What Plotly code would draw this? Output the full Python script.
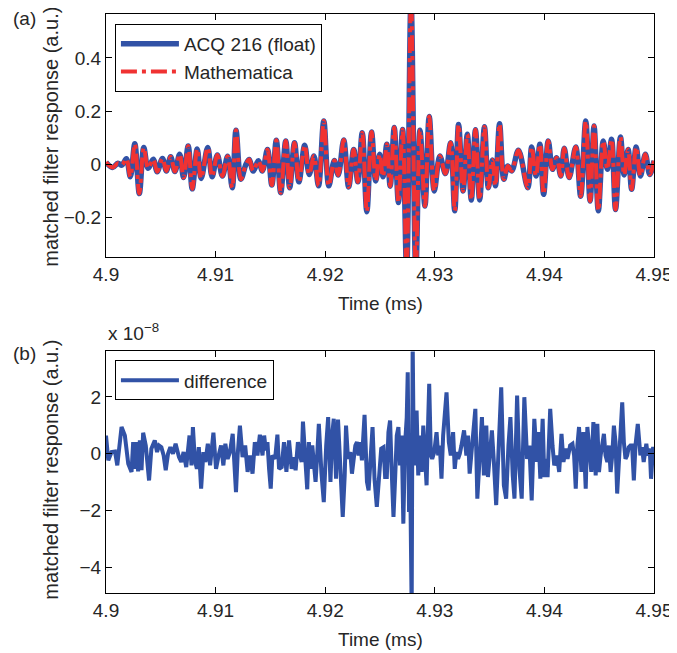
import plotly.graph_objects as go

# ---------------- data ----------------
# (a) matched filter response, ACQ 216 (float) and Mathematica (they overlap)
time_top = [
    4.90000, 4.90061, 4.90109, 4.90145, 4.90186, 4.90222, 4.90263, 4.90304, 4.90345, 4.90384,
    4.90431, 4.90467, 4.90515, 4.90551, 4.90590, 4.90629, 4.90672, 4.90708, 4.90750, 4.90787,
    4.90832, 4.90868, 4.90928, 4.90968, 4.91016, 4.91062, 4.91110, 4.91152, 4.91186, 4.91231,
    4.91277, 4.91307, 4.91343, 4.91391, 4.91427, 4.91473, 4.91513, 4.91554, 4.91594, 4.91640,
    4.91676, 4.91720, 4.91760, 4.91813, 4.91854, 4.91897, 4.91939, 4.91987, 4.92033, 4.92083,
    4.92119, 4.92169, 4.92214, 4.92260, 4.92298, 4.92338, 4.92380, 4.92423, 4.92461, 4.92497,
    4.92527, 4.92562, 4.92593, 4.92630, 4.92668, 4.92706, 4.92743, 4.92783, 4.92827, 4.92865,
    4.92910, 4.92949, 4.92995, 4.93046, 4.93097, 4.93144, 4.93182, 4.93217, 4.93258, 4.93297,
    4.93333, 4.93371, 4.93409, 4.93453, 4.93489, 4.93525, 4.93553, 4.93591, 4.93630, 4.93666,
    4.93702, 4.93763, 4.93848, 4.93884, 4.93923, 4.93959, 4.93993, 4.94035, 4.94074, 4.94111,
    4.94150, 4.94181, 4.94226, 4.94286, 4.94331, 4.94377, 4.94417, 4.94453, 4.94492, 4.94537,
    4.94574, 4.94613, 4.94649, 4.94694, 4.94728, 4.94764, 4.94796, 4.94837, 4.94876, 4.94921,
    4.94961, 4.95000,
]
acq_values = [
    0.008, -0.012, 0.004, -0.003, 0.021, -0.047, 0.077, -0.110, 0.063, -0.015,
    0.019, -0.028, 0.022, -0.025, 0.028, -0.027, 0.038, -0.050, 0.069, -0.092,
    0.058, -0.053, 0.063, -0.047, 0.035, -0.044, 0.030, -0.088, 0.128, -0.056,
    0.000, 0.018, -0.025, 0.013, -0.025, 0.056, -0.078, 0.090, -0.107, 0.088,
    -0.088, 0.081, -0.066, 0.072, -0.038, 0.031, -0.081, 0.163, -0.081, 0.014,
    -0.040, 0.091, -0.085, 0.056, -0.066, 0.119, -0.178, 0.121, -0.063, 0.038,
    -0.047, 0.075, -0.082, 0.138, -0.144, 0.131, -0.400, 0.620, -0.400, 0.128,
    -0.157, 0.180, -0.100, 0.031, -0.035, 0.081, -0.175, 0.150, -0.100, 0.113,
    -0.134, 0.130, -0.134, 0.141, -0.088, 0.016, -0.081, 0.152, -0.056, -0.006,
    -0.025, 0.053, -0.088, 0.065, -0.044, 0.075, -0.113, 0.088, -0.019, 0.025,
    -0.044, 0.060, -0.050, 0.065, -0.120, 0.163, -0.138, 0.144, -0.175, 0.088,
    -0.019, 0.094, -0.170, 0.103, -0.040, 0.056, -0.094, 0.065, -0.044, 0.038,
    -0.038, 0.013,
]
# Mathematica result is visually identical to the ACQ 216 result (difference ~1e-8)
mathematica_values = list(acq_values)

# (b) difference, in units of 1e-8
time_diff = [
    4.90000, 4.90021, 4.90051, 4.90082, 4.90103, 4.90142, 4.90172, 4.90203, 4.90233, 4.90248,
    4.90263, 4.90278, 4.90293, 4.90309, 4.90324, 4.90339, 4.90363, 4.90393, 4.90414, 4.90445,
    4.90466, 4.90484, 4.90505, 4.90526, 4.90545, 4.90566, 4.90587, 4.90611, 4.90635, 4.90666,
    4.90687, 4.90708, 4.90732, 4.90762, 4.90780, 4.90793, 4.90811, 4.90829, 4.90847, 4.90868,
    4.90889, 4.90907, 4.90929, 4.90950, 4.90980, 4.91004, 4.91028, 4.91050, 4.91071, 4.91089,
    4.91110, 4.91131, 4.91156, 4.91171, 4.91186, 4.91201, 4.91222, 4.91246, 4.91270, 4.91292,
    4.91313, 4.91337, 4.91358, 4.91382, 4.91404, 4.91428, 4.91443, 4.91458, 4.91473, 4.91488,
    4.91503, 4.91518, 4.91543, 4.91564, 4.91579, 4.91603, 4.91624, 4.91646, 4.91670, 4.91694,
    4.91715, 4.91730, 4.91751, 4.91770, 4.91785, 4.91797, 4.91815, 4.91836, 4.91851, 4.91866,
    4.91882, 4.91897, 4.91912, 4.91927, 4.91942, 4.91966, 4.91987, 4.92009, 4.92027, 4.92048,
    4.92063, 4.92078, 4.92099, 4.92117, 4.92139, 4.92160, 4.92178, 4.92190, 4.92208, 4.92229,
    4.92244, 4.92260, 4.92275, 4.92290, 4.92305, 4.92320, 4.92335, 4.92359, 4.92381, 4.92396,
    4.92411, 4.92432, 4.92450, 4.92471, 4.92511, 4.92532, 4.92547, 4.92562, 4.92577, 4.92592,
    4.92607, 4.92623, 4.92638, 4.92653, 4.92668, 4.92683, 4.92698, 4.92713, 4.92728, 4.92744,
    4.92753, 4.92765, 4.92774, 4.92789, 4.92798, 4.92804, 4.92819, 4.92834, 4.92849, 4.92865,
    4.92880, 4.92895, 4.92910, 4.92925, 4.92940, 4.92949, 4.92964, 4.92976, 4.92995, 4.93016,
    4.93031, 4.93046, 4.93061, 4.93076, 4.93107, 4.93128, 4.93146, 4.93167, 4.93182, 4.93197,
    4.93212, 4.93228, 4.93243, 4.93267, 4.93288, 4.93303, 4.93318, 4.93333, 4.93349, 4.93370,
    4.93388, 4.93409, 4.93430, 4.93448, 4.93470, 4.93485, 4.93500, 4.93521, 4.93539, 4.93560,
    4.93581, 4.93606, 4.93630, 4.93651, 4.93672, 4.93690, 4.93711, 4.93727, 4.93751, 4.93772,
    4.93793, 4.93817, 4.93842, 4.93863, 4.93884, 4.93908, 4.93932, 4.93944, 4.93963, 4.93984,
    4.93999, 4.94014, 4.94029, 4.94053, 4.94074, 4.94090, 4.94114, 4.94135, 4.94156, 4.94174,
    4.94195, 4.94211, 4.94235, 4.94256, 4.94271, 4.94286, 4.94301, 4.94316, 4.94338, 4.94356,
    4.94377, 4.94392, 4.94416, 4.94428, 4.94447, 4.94468, 4.94483, 4.94498, 4.94513, 4.94528,
    4.94543, 4.94558, 4.94574, 4.94589, 4.94604, 4.94619, 4.94634, 4.94649, 4.94664, 4.94688,
    4.94710, 4.94725, 4.94740, 4.94755, 4.94770, 4.94785, 4.94800, 4.94816, 4.94831, 4.94852,
    4.94876, 4.94891, 4.94906, 4.94930, 4.94943, 4.94961, 4.94973, 4.94991, 4.95000,
]
diff_values = [
    0.64, -0.23, 0.06, 0.08, -0.41, 0.94, 0.64, -0.35, -0.64, 0.41,
    -0.53, 0.41, -0.62, 0.47, -0.58, 0.74, 0.29, -0.94, 0.18, 0.47,
    0.06, 0.29, 0.23, -0.06, -0.58, 0.00, 0.23, 0.00, 0.35, -0.12,
    -0.29, 0.06, -0.47, 0.64, -0.41, 0.94, -0.23, -0.53, 0.23, -1.23,
    0.06, -0.29, 0.35, -0.41, 0.74, -0.53, -0.06, 0.29, -0.41, 0.35,
    -0.18, 0.06, 0.70, -0.70, -1.35, -0.06, 0.99, -0.12, 0.29, -0.64,
    -0.06, -0.70, 0.41, -0.06, 0.67, -0.06, 0.64, 0.12, 0.41, -0.53,
    -1.23, -0.06, -0.18, 0.67, -0.53, -0.47, 0.41, -0.64, 0.47, -0.53,
    -0.12, -0.58, 0.41, -0.06, -0.29, 1.13, -0.18, -1.25, 0.41, -0.53,
    0.29, -0.29, -0.99, -0.06, 1.05, -0.70, -1.70, 0.29, 1.29, -0.99,
    0.64, 1.23, -0.88, 1.20, -0.41, -2.22, -0.76, 0.99, -0.18, 0.06,
    -0.70, -0.29, 0.29, 0.41, -0.06, 0.41, -0.23, 1.37, -0.99, -1.29,
    -0.06, 0.94, -0.88, -1.87, 0.18, 0.23, -0.82, -0.82, 0.76, 1.17,
    -0.64, -2.22, -0.88, 0.64, 0.94, -0.41, 0.64, -2.46, 0.29, 1.29,
    2.87, -2.05, -0.29, -5.50, 4.00, 1.58, -0.41, 1.52, -0.76, 0.64,
    -0.64, 0.99, -0.06, -1.11, 1.23, 2.46, -0.06, -0.18, 0.06, 0.76,
    -0.06, 0.29, -0.88, 0.64, 2.16, 0.41, -0.06, 0.76, -0.53, 0.06,
    -0.18, 0.00, 0.29, 0.82, -0.06, 0.64, -0.70, 0.00, 0.64, 1.58,
    -1.58, -0.18, 1.29, -0.76, 0.99, -0.82, 0.06, 0.82, -0.29, -1.81,
    0.06, 2.34, -1.11, -1.58, 0.29, 1.29, -0.76, -1.58, 2.05, -0.53,
    -1.58, 1.99, -0.18, 0.29, -1.64, 1.23, -0.29, 0.76, -0.88, 1.23,
    -0.82, -0.18, -0.82, 1.58, 0.29, -0.41, -0.06, -0.64, 0.70, -0.29,
    0.18, -0.18, 0.29, 0.35, -0.06, -1.23, 0.29, 0.94, -0.64, 0.76,
    -1.23, 0.94, -0.06, -0.64, 1.11, -0.76, 1.05, -0.64, -0.06, 0.29,
    0.70, -0.06, -0.29, 0.29, -0.64, -0.06, 0.99, 0.41, -1.40, 0.29,
    1.81, 0.41, -0.18, -0.06, 0.23, 0.29, 0.29, -0.94, 0.29, 1.05,
    -0.06, 0.23, -0.29, 0.35, -0.06, 0.18, -0.88, 0.18, 0.18,
]

assert len(time_top) == len(acq_values)
assert len(time_diff) == len(diff_values)

x_ticks = [4.90, 4.91, 4.92, 4.93, 4.94, 4.95]
x_ticklabels = ["4.9", "4.91", "4.92", "4.93", "4.94", "4.95"]
y_ticks_top = [-0.2, 0, 0.2, 0.4]
y_ticklabels_top = ["\u22120.2", "0", "0.2", "0.4"]
y_ticks_bot = [-4, -2, 0, 2]
y_ticklabels_bot = ["\u22124", "\u22122", "0", "2"]

# ---------------- style ----------------
BLUE = "#3152A6"
RED = "#F03232"
FONT = "Liberation Sans, Arial, Helvetica, sans-serif"
FS = 19
TXT = "#262626"

fig = go.Figure()
fig.add_trace(go.Scatter(
    x=time_top, y=acq_values, mode="lines", name="ACQ 216 (float)",
    line=dict(color=BLUE, width=5.5, shape="spline", smoothing=1.0),
    xaxis="x", yaxis="y", legend="legend"))
fig.add_trace(go.Scatter(
    x=time_top, y=mathematica_values, mode="lines", name="Mathematica",
    line=dict(color=RED, width=4, dash="16px,5px,4px,5px", shape="spline", smoothing=1.0),
    xaxis="x", yaxis="y", legend="legend"))
fig.add_trace(go.Scatter(
    x=time_diff, y=diff_values, mode="lines", name="difference",
    line=dict(color=BLUE, width=4),
    xaxis="x2", yaxis="y2", legend="legend2"))

axis_common = dict(
    showline=True, linecolor="black", linewidth=1, mirror="ticks",
    ticks="inside", ticklen=6, tickcolor="black", tickwidth=1,
    showgrid=False, zeroline=False,
    tickfont=dict(family=FONT, size=FS, color=TXT),
)

# the page body adds an 8 px margin, so the figure is 8 px smaller each way
fig.update_layout(
    width=669, height=645,
    margin=dict(l=98, r=20, t=5, b=60),
    paper_bgcolor="white", plot_bgcolor="white",
    font=dict(family=FONT, size=FS, color=TXT),
    xaxis=dict(domain=[0, 1], anchor="y", range=[4.9, 4.95],
               tickvals=x_ticks, ticktext=x_ticklabels, **axis_common),
    yaxis=dict(domain=[0.5805, 1], anchor="x", range=[-0.348, 0.565],
               tickvals=y_ticks_top, ticktext=y_ticklabels_top, **axis_common),
    xaxis2=dict(domain=[0, 1], anchor="y2", range=[4.9, 4.95],
                tickvals=x_ticks, ticktext=x_ticklabels, **axis_common),
    yaxis2=dict(domain=[0, 0.4172], anchor="x2", range=[-4.9, 3.6],
                tickvals=y_ticks_bot, ticktext=y_ticklabels_bot, **axis_common),
    legend=dict(x=0.0163, y=0.983, xanchor="left", yanchor="top",
                bgcolor="white", bordercolor="black", borderwidth=1,
                itemwidth=58,
                font=dict(family=FONT, size=FS, color=TXT), tracegroupgap=0),
    legend2=dict(x=0.0163, y=0.4017, xanchor="left", yanchor="top",
                 bgcolor="white", bordercolor="black", borderwidth=1,
                 itemwidth=58,
                 font=dict(family=FONT, size=FS, color=TXT)),
    showlegend=True,
)

ann = dict(xref="paper", yref="paper", showarrow=False,
           font=dict(family=FONT, size=FS, color=TXT))
ann_title = dict(xref="paper", yref="paper", showarrow=False,
                 font=dict(family=FONT, size=20, color=TXT))
fig.add_annotation(text="(a)", x=-0.174, y=0.9914, xanchor="left", yanchor="middle", **ann)
fig.add_annotation(text="(b)", x=-0.174, y=0.4138, xanchor="left", yanchor="middle", **ann)
fig.add_annotation(text="matched filter response (a.u.)", textangle=-90,
                   x=-0.1004, y=0.788, xanchor="center", yanchor="middle", **ann_title)
fig.add_annotation(text="matched filter response (a.u.)", textangle=-90,
                   x=-0.1004, y=0.213, xanchor="center", yanchor="middle", **ann_title)
fig.add_annotation(text="Time (ms)", x=0.5, y=0.5, xanchor="center", yanchor="middle", **ann)
fig.add_annotation(text="Time (ms)", x=0.5, y=-0.081, xanchor="center", yanchor="middle", **ann)
fig.add_annotation(text="x 10<sup>\u22128</sup>", x=0.0, y=0.426, xanchor="left", yanchor="bottom", **ann)

fig.write_html("out.html")
